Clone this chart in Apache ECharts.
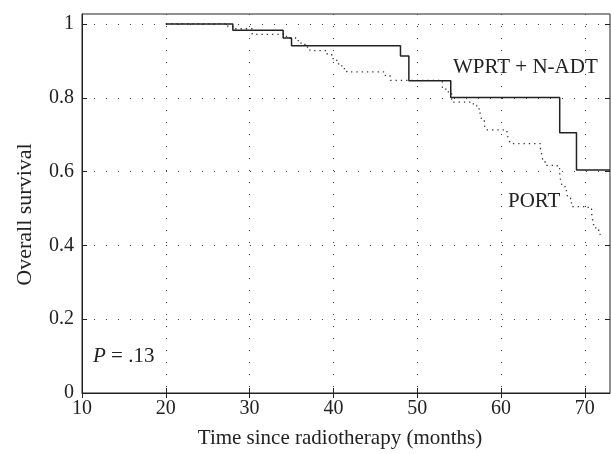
<!DOCTYPE html>
<html lang="en">
<head>
    <meta charset="UTF-8">
    <title>Overall survival</title>
    <script type="text/javascript" src="https://cdn.jsdelivr.net/npm/echarts@6/dist/echarts.min.js"></script>
    <style>
        html, body {
            margin: 0;
            padding: 0;
            background: #fff;
        }

        #main {
            width: 611px;
            height: 454px;
        }
    </style>
</head>
<body>
<div id="main"></div>
<script>
    // WPRT + N-ADT (solid) - time of each step and survival after it
    var adtTimes = [20, 28, 34, 35, 48, 49, 54, 67, 69, 73]
    var adtSurv = [1, 0.983, 0.962, 0.941, 0.913, 0.846, 0.801, 0.705, 0.604, 0.604]

    // PORT (dotted)
    var portTimes = [20, 27.4, 28.2, 30.3, 34.4, 35.8, 36.6, 37.2, 39.2, 39.8, 40.4, 41.0, 41.6, 46.2, 46.8,
        53.0, 53.4, 54.1, 56.7, 57.1, 57.5, 57.7, 58.0, 58.2, 60.7, 60.9, 61.1, 64.7, 64.9, 65.0, 65.4,
        66.7, 67.0, 67.1, 67.3, 67.8, 68.0, 68.4, 70.4, 70.8, 70.9, 71.0, 71.3, 71.8, 72.1]
    var portSurv = [1, 0.993, 0.987, 0.972, 0.962, 0.948, 0.937, 0.928, 0.919, 0.906, 0.892, 0.879, 0.870, 0.859, 0.847,
        0.828, 0.816, 0.788, 0.779, 0.770, 0.756, 0.740, 0.726, 0.713, 0.702, 0.688, 0.676, 0.660, 0.643, 0.626, 0.617,
        0.608, 0.594, 0.577, 0.559, 0.545, 0.527, 0.505, 0.499, 0.487, 0.473, 0.456, 0.441, 0.430, 0.430]

    var xTicks = [10, 20, 30, 40, 50, 60, 70]
    var yTicks = [0, 0.2, 0.4, 0.6, 0.8, 1]

    function pairs(xs, ys) {
        var out = []
        for (var i = 0; i < xs.length; i++) {
            out.push([xs[i], ys[i]])
        }
        return out
    }

    var serif = "'Liberation Serif', 'DejaVu Serif', serif"
    var ink = '#222'

    var chart = echarts.init(document.getElementById('main'), null, {renderer: 'canvas'})

    var dotted = {
        show: true,
        lineStyle: {color: '#444', width: 1, type: [1, 11]}
    }

    // ticks pointing inwards, like the matlab frame
    function ticks(list) {
        return {inside: true, length: 5, customValues: list, lineStyle: {color: ink}}
    }

    var option = {
        backgroundColor: '#fff',
        animation: false,
        grid: {
            left: 82,
            right: 1,
            top: 14,
            bottom: 61,
            show: true,
            borderColor: ink,
            borderWidth: 1
        },
        xAxis: [{
            type: 'value',
            min: 10,
            max: 73,
            interval: 10,
            name: 'Time since radiotherapy (months)',
            nameLocation: 'middle',
            nameGap: 35,
            nameTextStyle: {fontFamily: serif, fontSize: 21, color: ink, padding: [0, 12, 0, 0]},
            axisLine: {show: true, lineStyle: {color: ink}},
            axisTick: ticks(xTicks),
            axisLabel: {
                fontFamily: serif, fontSize: 20, color: ink, margin: 6,
                customValues: xTicks
            },
            splitLine: dotted
        }, {
            // top edge: ticks only
            type: 'value',
            position: 'top',
            min: 10,
            max: 73,
            interval: 10,
            axisLine: {show: false},
            axisTick: ticks(xTicks),
            axisLabel: {show: false},
            splitLine: {show: false}
        }],
        yAxis: [{
            type: 'value',
            min: 0,
            max: 1.027,
            interval: 0.2,
            name: 'Overall survival',
            nameLocation: 'middle',
            nameGap: 46,
            // padding on the right pushes the rotated title down a bit
            nameTextStyle: {fontFamily: serif, fontSize: 22, color: ink, padding: [0, 22, 0, 0]},
            axisLine: {show: true, lineStyle: {color: ink}},
            axisTick: ticks(yTicks),
            axisLabel: {
                fontFamily: serif, fontSize: 20, color: ink, margin: 8,
                customValues: yTicks,
                formatter: function (v) { return String(+v.toFixed(1)) }
            },
            splitLine: dotted
        }, {
            // right edge: ticks only
            type: 'value',
            position: 'right',
            min: 0,
            max: 1.027,
            interval: 0.2,
            axisLine: {show: false},
            axisTick: ticks(yTicks),
            axisLabel: {show: false},
            splitLine: {show: false}
        }],
        series: [{
            name: 'WPRT + N-ADT',
            type: 'line',
            step: 'end',
            showSymbol: false,
            xAxisIndex: 0,
            yAxisIndex: 0,
            lineStyle: {color: ink, width: 1.5},
            data: pairs(adtTimes, adtSurv),
            z: 3
        }, {
            name: 'PORT',
            type: 'line',
            step: 'end',
            showSymbol: false,
            xAxisIndex: 0,
            yAxisIndex: 0,
            lineStyle: {color: '#333', width: 1.3, type: [1.3, 4]},
            data: pairs(portTimes, portSurv),
            z: 2
        }],
        graphic: [{
            type: 'text',
            left: 453,
            top: 57,
            style: {text: 'WPRT + N-ADT', fontFamily: serif, fontSize: 21, fill: ink}
        }, {
            type: 'text',
            left: 508,
            top: 191,
            style: {text: 'PORT', fontFamily: serif, fontSize: 21, fill: ink}
        }, {
            type: 'text',
            left: 93,
            top: 346,
            style: {
                text: '{i|P} = .13',
                fontFamily: serif, fontSize: 21, fill: ink,
                rich: {i: {fontFamily: serif, fontSize: 21, fontStyle: 'italic', fill: ink}}
            }
        }]
    };

    chart.setOption(option);
</script>
</body>
</html>
